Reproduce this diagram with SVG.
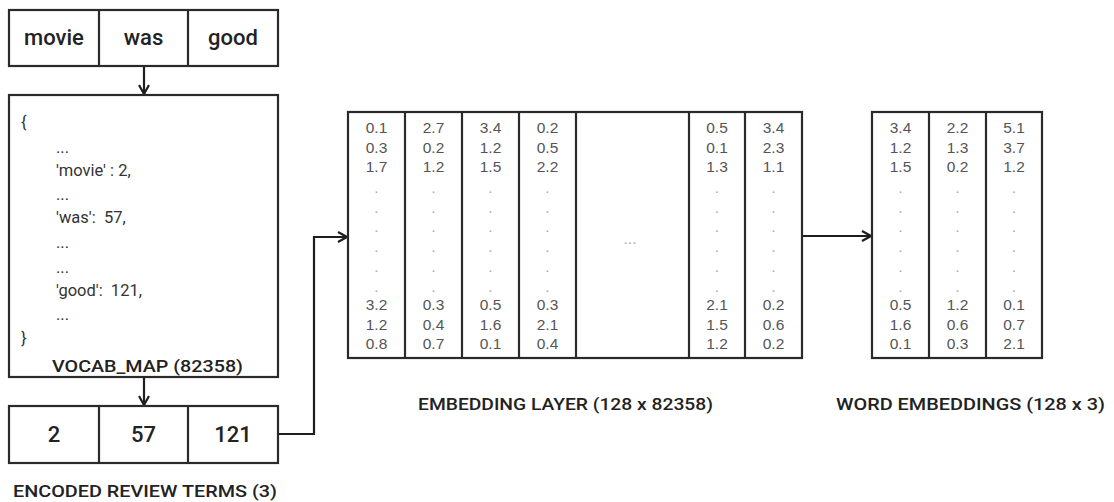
<svg xmlns="http://www.w3.org/2000/svg" width="1114" height="502" viewBox="0 0 1114 502">
<defs>
<style>
.box{fill:#fff;stroke:#2a2a2a;stroke-width:2.2}
.div{stroke:#2a2a2a;stroke-width:2.2}
.word{font-family:Roboto,"Liberation Sans",sans-serif;font-weight:500;font-size:22px;fill:#222;text-anchor:middle}
.lbl{font-family:Roboto,"Liberation Sans",sans-serif;font-weight:500;font-size:17px;fill:#222}
.code{font-family:Roboto,"Liberation Sans",sans-serif;font-size:16.5px;fill:#333}
.num{font-family:"Liberation Sans",Arial,sans-serif;font-size:15.5px;fill:#555;text-anchor:middle}
.dot{font-family:"Liberation Sans",Arial,sans-serif;font-size:15.5px;fill:#aaa;text-anchor:middle}
.conn{fill:none;stroke:#1e1e1e;stroke-width:2.2}
</style>
<marker id="arr" viewBox="0 0 12 12" refX="11" refY="6" markerWidth="12" markerHeight="12" markerUnits="userSpaceOnUse" orient="auto">
<path d="M2,1 L11,6 L2,11" fill="none" stroke="#1e1e1e" stroke-width="2.2"/>
</marker>
</defs>
<rect width="1114" height="502" fill="#fff"/>

<g id="connectors">
<line class="conn" x1="144" y1="66" x2="144" y2="94" marker-end="url(#arr)"/>
<line class="conn" x1="144" y1="377" x2="144" y2="405" marker-end="url(#arr)"/>
<polyline class="conn" points="278,434 314,434 314,237 347,237" marker-end="url(#arr)"/>
<line class="conn" x1="802" y1="236" x2="871" y2="236" marker-end="url(#arr)"/>
</g>

<g id="input-words">
<rect class="box" x="9" y="10" width="269" height="56"/>
<line class="div" x1="99" y1="10" x2="99" y2="66"/>
<line class="div" x1="188" y1="10" x2="188" y2="66"/>
<text class="word" x="54" y="45">movie</text>
<text class="word" x="143.5" y="45">was</text>
<text class="word" x="233" y="45">good</text>
</g>

<g id="vocab-map">
<rect class="box" x="9" y="95" width="269" height="282"/>
<text class="code" x="21" y="128">{</text>
<text class="code" x="56" y="153">...</text>
<text class="code" x="56" y="176">'movie' : 2,</text>
<text class="code" x="56" y="200">...</text>
<text class="code" x="56" y="223">'was': &#160;57,</text>
<text class="code" x="56" y="248">...</text>
<text class="code" x="56" y="273">...</text>
<text class="code" x="56" y="296">'good': &#160;121,</text>
<text class="code" x="56" y="320">...</text>
<text class="code" x="21" y="344">}</text>
<text class="lbl" x="52" y="372" font-size="18" textLength="191" lengthAdjust="spacingAndGlyphs">VOCAB_MAP (82358)</text>
</g>

<g id="encoded-terms">
<rect class="box" x="9" y="406" width="269" height="57"/>
<line class="div" x1="99" y1="406" x2="99" y2="463"/>
<line class="div" x1="188" y1="406" x2="188" y2="463"/>
<text class="word" x="54" y="442">2</text>
<text class="word" x="143.5" y="442">57</text>
<text class="word" x="233" y="442">121</text>
<text class="lbl" x="13" y="497" font-size="18" textLength="264" lengthAdjust="spacingAndGlyphs">ENCODED REVIEW TERMS (3)</text>
</g>

<g id="embedding-layer">
<rect class="box" x="348" y="112" width="454" height="246"/>
<line class="div" x1="405" y1="112" x2="405" y2="358"/>
<line class="div" x1="462" y1="112" x2="462" y2="358"/>
<line class="div" x1="519" y1="112" x2="519" y2="358"/>
<line class="div" x1="576" y1="112" x2="576" y2="358"/>
<line class="div" x1="689" y1="112" x2="689" y2="358"/>
<line class="div" x1="745" y1="112" x2="745" y2="358"/>
<text class="num"><tspan x="376.5" y="133">0.1</tspan><tspan x="376.5" dy="19.7">0.3</tspan><tspan x="376.5" dy="19.7">1.7</tspan></text>
<text class="num"><tspan x="376.5" y="310">3.2</tspan><tspan x="376.5" dy="19.7">1.2</tspan><tspan x="376.5" dy="19.7">0.8</tspan></text>
<text class="num"><tspan x="433.5" y="133">2.7</tspan><tspan x="433.5" dy="19.7">0.2</tspan><tspan x="433.5" dy="19.7">1.2</tspan></text>
<text class="num"><tspan x="433.5" y="310">0.3</tspan><tspan x="433.5" dy="19.7">0.4</tspan><tspan x="433.5" dy="19.7">0.7</tspan></text>
<text class="num"><tspan x="490.5" y="133">3.4</tspan><tspan x="490.5" dy="19.7">1.2</tspan><tspan x="490.5" dy="19.7">1.5</tspan></text>
<text class="num"><tspan x="490.5" y="310">0.5</tspan><tspan x="490.5" dy="19.7">1.6</tspan><tspan x="490.5" dy="19.7">0.1</tspan></text>
<text class="num"><tspan x="547.5" y="133">0.2</tspan><tspan x="547.5" dy="19.7">0.5</tspan><tspan x="547.5" dy="19.7">2.2</tspan></text>
<text class="num"><tspan x="547.5" y="310">0.3</tspan><tspan x="547.5" dy="19.7">2.1</tspan><tspan x="547.5" dy="19.7">0.4</tspan></text>
<text class="num"><tspan x="717" y="133">0.5</tspan><tspan x="717" dy="19.7">0.1</tspan><tspan x="717" dy="19.7">1.3</tspan></text>
<text class="num"><tspan x="717" y="310">2.1</tspan><tspan x="717" dy="19.7">1.5</tspan><tspan x="717" dy="19.7">1.2</tspan></text>
<text class="num"><tspan x="773.5" y="133">3.4</tspan><tspan x="773.5" dy="19.7">2.3</tspan><tspan x="773.5" dy="19.7">1.1</tspan></text>
<text class="num"><tspan x="773.5" y="310">0.2</tspan><tspan x="773.5" dy="19.7">0.6</tspan><tspan x="773.5" dy="19.7">0.2</tspan></text>
<text class="dot"><tspan x="376.5" y="193">.</tspan><tspan x="376.5" dy="19.7">.</tspan><tspan x="376.5" dy="19.7">.</tspan><tspan x="376.5" dy="19.7">.</tspan><tspan x="376.5" dy="19.7">.</tspan><tspan x="376.5" dy="19.7">.</tspan></text>
<text class="dot"><tspan x="433.5" y="193">.</tspan><tspan x="433.5" dy="19.7">.</tspan><tspan x="433.5" dy="19.7">.</tspan><tspan x="433.5" dy="19.7">.</tspan><tspan x="433.5" dy="19.7">.</tspan><tspan x="433.5" dy="19.7">.</tspan></text>
<text class="dot"><tspan x="490.5" y="193">.</tspan><tspan x="490.5" dy="19.7">.</tspan><tspan x="490.5" dy="19.7">.</tspan><tspan x="490.5" dy="19.7">.</tspan><tspan x="490.5" dy="19.7">.</tspan><tspan x="490.5" dy="19.7">.</tspan></text>
<text class="dot"><tspan x="547.5" y="193">.</tspan><tspan x="547.5" dy="19.7">.</tspan><tspan x="547.5" dy="19.7">.</tspan><tspan x="547.5" dy="19.7">.</tspan><tspan x="547.5" dy="19.7">.</tspan><tspan x="547.5" dy="19.7">.</tspan></text>
<text class="dot"><tspan x="717" y="193">.</tspan><tspan x="717" dy="19.7">.</tspan><tspan x="717" dy="19.7">.</tspan><tspan x="717" dy="19.7">.</tspan><tspan x="717" dy="19.7">.</tspan><tspan x="717" dy="19.7">.</tspan></text>
<text class="dot"><tspan x="773.5" y="193">.</tspan><tspan x="773.5" dy="19.7">.</tspan><tspan x="773.5" dy="19.7">.</tspan><tspan x="773.5" dy="19.7">.</tspan><tspan x="773.5" dy="19.7">.</tspan><tspan x="773.5" dy="19.7">.</tspan></text>
<text class="dot" x="630" y="244" font-size="13">...</text>
<text class="lbl" x="418" y="410" textLength="295" lengthAdjust="spacingAndGlyphs">EMBEDDING LAYER (128 x 82358)</text>
</g>

<g id="word-embeddings">
<rect class="box" x="872" y="112" width="170" height="246"/>
<line class="div" x1="929" y1="112" x2="929" y2="358"/>
<line class="div" x1="986" y1="112" x2="986" y2="358"/>
<text class="num"><tspan x="900.5" y="133">3.4</tspan><tspan x="900.5" dy="19.7">1.2</tspan><tspan x="900.5" dy="19.7">1.5</tspan></text>
<text class="num"><tspan x="900.5" y="310">0.5</tspan><tspan x="900.5" dy="19.7">1.6</tspan><tspan x="900.5" dy="19.7">0.1</tspan></text>
<text class="num"><tspan x="957.5" y="133">2.2</tspan><tspan x="957.5" dy="19.7">1.3</tspan><tspan x="957.5" dy="19.7">0.2</tspan></text>
<text class="num"><tspan x="957.5" y="310">1.2</tspan><tspan x="957.5" dy="19.7">0.6</tspan><tspan x="957.5" dy="19.7">0.3</tspan></text>
<text class="num"><tspan x="1014" y="133">5.1</tspan><tspan x="1014" dy="19.7">3.7</tspan><tspan x="1014" dy="19.7">1.2</tspan></text>
<text class="num"><tspan x="1014" y="310">0.1</tspan><tspan x="1014" dy="19.7">0.7</tspan><tspan x="1014" dy="19.7">2.1</tspan></text>
<text class="dot"><tspan x="900.5" y="193">.</tspan><tspan x="900.5" dy="19.7">.</tspan><tspan x="900.5" dy="19.7">.</tspan><tspan x="900.5" dy="19.7">.</tspan><tspan x="900.5" dy="19.7">.</tspan><tspan x="900.5" dy="19.7">.</tspan></text>
<text class="dot"><tspan x="957.5" y="193">.</tspan><tspan x="957.5" dy="19.7">.</tspan><tspan x="957.5" dy="19.7">.</tspan><tspan x="957.5" dy="19.7">.</tspan><tspan x="957.5" dy="19.7">.</tspan><tspan x="957.5" dy="19.7">.</tspan></text>
<text class="dot"><tspan x="1014" y="193">.</tspan><tspan x="1014" dy="19.7">.</tspan><tspan x="1014" dy="19.7">.</tspan><tspan x="1014" dy="19.7">.</tspan><tspan x="1014" dy="19.7">.</tspan><tspan x="1014" dy="19.7">.</tspan></text>
<text class="lbl" x="836" y="410" textLength="269" lengthAdjust="spacingAndGlyphs">WORD EMBEDDINGS (128 x 3)</text>
</g>
</svg>
